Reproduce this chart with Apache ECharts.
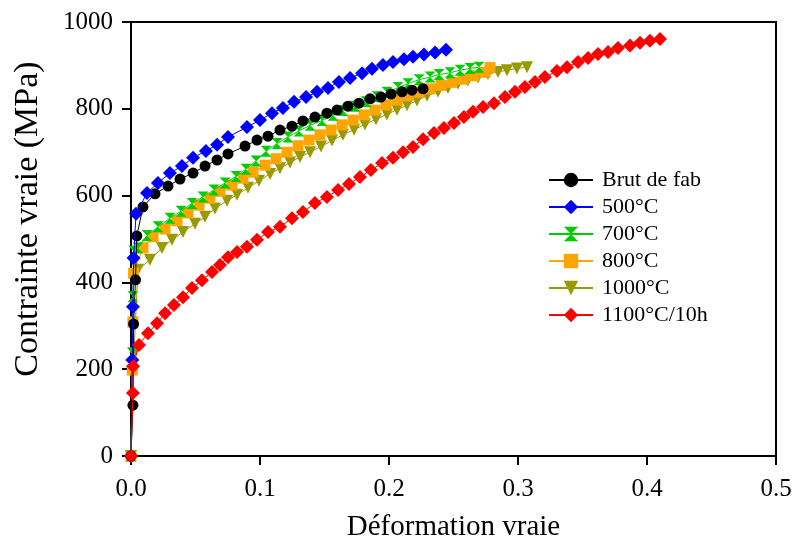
<!DOCTYPE html>
<html>
<head>
<meta charset="utf-8">
<script src="https://cdn.jsdelivr.net/npm/echarts@6/dist/echarts.min.js"></script>
<style>
html,body{margin:0;padding:0;background:#fff;}
#chart{width:797px;height:542px;}
</style>
</head>
<body>
<div id="chart"></div>
<script>
// ---- Data (true strain, true stress in MPa) ----
var seriesNames = ['Brut de fab', '500°C', '700°C', '800°C', '1000°C', '1100°C/10h'];

var brutX = [0, 0.0015, 0.002, 0.0035, 0.0045, 0.0093, 0.0186, 0.0287, 0.0380, 0.0481, 0.0574, 0.0667, 0.0752, 0.0884, 0.0977, 0.1062, 0.1155, 0.1248, 0.1333, 0.1426, 0.1519, 0.1597, 0.1682, 0.1767, 0.1853, 0.1938, 0.2016, 0.2101, 0.2178, 0.2264];
var brutY = [0, 117, 304, 406, 507, 574, 604, 622, 638, 652, 668, 682, 696, 714, 728, 737, 751, 760, 772, 781, 790, 797, 806, 813, 823, 827, 834, 839, 843, 846];

var t500X = [0, 0.001, 0.0015, 0.002, 0.0039, 0.0124, 0.0209, 0.0302, 0.0395, 0.0481, 0.0581, 0.0667, 0.0752, 0.0899, 0.1000, 0.1093, 0.1178, 0.1264, 0.1357, 0.1442, 0.1527, 0.1612, 0.1698, 0.1791, 0.1868, 0.1953, 0.2031, 0.2116, 0.2186, 0.2271, 0.2357, 0.2442];
var t500Y = [0, 221, 344, 456, 558, 606, 629, 652, 668, 687, 703, 717, 735, 758, 774, 790, 802, 816, 827, 839, 848, 862, 871, 882, 892, 901, 908, 914, 920, 925, 930, 936];

var t700X = [0, 0.001, 0.0015, 0.002, 0.0054, 0.0124, 0.0209, 0.0302, 0.0388, 0.0473, 0.0558, 0.0643, 0.0729, 0.0814, 0.0891, 0.0969, 0.1047, 0.1132, 0.1217, 0.1302, 0.1388, 0.1481, 0.1566, 0.1643, 0.1736, 0.1822, 0.1907, 0.1984, 0.2070, 0.2147, 0.2233, 0.2318, 0.2388, 0.2473, 0.2550, 0.2628, 0.2698];
var t700Y = [0, 237, 367, 472, 479, 508, 528, 548, 564, 582, 597, 613, 629, 644, 661, 680, 702, 720, 735, 749, 762, 773, 785, 796, 806, 816, 828, 838, 849, 858, 867, 873, 879, 883, 889, 893, 896];

var t800X = [0, 0.001, 0.0015, 0.002, 0.0093, 0.0171, 0.0264, 0.0357, 0.0442, 0.0527, 0.0612, 0.0690, 0.0783, 0.0868, 0.0946, 0.1039, 0.1124, 0.1209, 0.1295, 0.1380, 0.1465, 0.1550, 0.1636, 0.1721, 0.1806, 0.1891, 0.1977, 0.2062, 0.2147, 0.2233, 0.2318, 0.2403, 0.2488, 0.2574, 0.2659, 0.2744, 0.2783];
var t800Y = [0, 198, 309, 421, 480, 505, 523, 542, 560, 578, 594, 610, 624, 640, 654, 670, 685, 700, 715, 728, 740, 751, 763, 774, 786, 797, 809, 820, 830, 838, 846, 854, 861, 868, 876, 884, 895];

var t1000X = [0, 0.0023, 0.0054, 0.0147, 0.0240, 0.0318, 0.0403, 0.0496, 0.0574, 0.0651, 0.0744, 0.0822, 0.0907, 0.0992, 0.1078, 0.1155, 0.1233, 0.1310, 0.1388, 0.1473, 0.1558, 0.1643, 0.1729, 0.1814, 0.1899, 0.1984, 0.2062, 0.2140, 0.2217, 0.2295, 0.2380, 0.2457, 0.2535, 0.2612, 0.2690, 0.2767, 0.2845, 0.2915, 0.2992, 0.3070];
var t1000Y = [0, 237, 429, 452, 479, 498, 516, 535, 551, 570, 588, 602, 618, 634, 650, 663, 676, 689, 700, 713, 727, 740, 752, 764, 776, 787, 798, 808, 819, 830, 839, 848, 858, 865, 872, 880, 885, 889, 893, 896];

var t1100X = [0, 0.0015, 0.0016, 0.0062, 0.0132, 0.0202, 0.0264, 0.0333, 0.0403, 0.0473, 0.0550, 0.0628, 0.0690, 0.0752, 0.0822, 0.0899, 0.0977, 0.1062, 0.1155, 0.1248, 0.1333, 0.1426, 0.1519, 0.1605, 0.1690, 0.1775, 0.1860, 0.1946, 0.2031, 0.2109, 0.2186, 0.2264, 0.2349, 0.2426, 0.2504, 0.2581, 0.2651, 0.2729, 0.2814, 0.2899, 0.2977, 0.3054, 0.3132, 0.3209, 0.3302, 0.3380, 0.3465, 0.3543, 0.3620, 0.3698, 0.3775, 0.3868, 0.3946, 0.4023, 0.4101];
var t1100Y = [0, 145, 207, 256, 283, 306, 329, 348, 366, 387, 405, 424, 440, 458, 470, 482, 498, 516, 528, 548, 562, 583, 597, 613, 627, 643, 659, 675, 687, 700, 712, 730, 744, 756, 767, 781, 793, 804, 813, 827, 839, 850, 862, 873, 887, 896, 908, 917, 926, 931, 940, 946, 952, 957, 961];

var xTickLabels = ['0.0', '0.1', '0.2', '0.3', '0.4', '0.5'];
var yTickLabels = ['0', '200', '400', '600', '800', '1000'];

// ---- Build ----
function pairs(xs, ys) { var o = []; for (var i = 0; i < xs.length; i++) o.push([xs[i], ys[i]]); return o; }

var hourglass = 'path://M0,0 L10,0 L5,5 L10,10 L0,10 L5,5 Z';
var FONT = '"Liberation Serif","Times New Roman",serif';

var defs = [
  {name: seriesNames[0], data: pairs(brutX, brutY), color: '#000000', symbol: 'circle', size: 11, z: 5},
  {name: seriesNames[1], data: pairs(t500X, t500Y), color: '#0000FF', symbol: 'diamond', size: 14, z: 6},
  {name: seriesNames[2], data: pairs(t700X, t700Y), color: '#00CC00', symbol: hourglass, size: 11, z: 4},
  {name: seriesNames[3], data: pairs(t800X, t800Y), color: '#FFA500', symbol: 'rect', size: 11, z: 3},
  {name: seriesNames[4], data: pairs(t1000X, t1000Y), color: '#999900', symbol: 'triangle', size: 12, rotate: 180, z: 2},
  {name: seriesNames[5], data: pairs(t1100X, t1100Y), color: '#FF0000', symbol: 'diamond', size: 14, z: 7}
];

var series = defs.map(function (d) {
  return {
    name: d.name, type: 'line', data: d.data, z: d.z,
    symbol: d.symbol, symbolSize: d.size, symbolRotate: d.rotate || 0,
    showSymbol: true, showAllSymbol: true,
    lineStyle: {color: d.color, width: 1},
    itemStyle: {color: d.color, borderWidth: 0},
    emphasis: {disabled: true},
    animation: false
  };
});

var chart = echarts.init(document.getElementById('chart'), null, {renderer: 'canvas'});
chart.setOption({
  backgroundColor: '#ffffff',
  animation: false,
  grid: {left: 131, right: 21, top: 22, bottom: 86, show: true, borderColor: '#000', borderWidth: 2,
    backgroundColor: 'transparent', containLabel: false, outerBoundsMode: 'none'},
  legend: {
    orient: 'vertical', left: 543, top: 164,
    itemWidth: 44, itemHeight: 18, itemGap: 5,
    data: seriesNames,
    textStyle: {fontFamily: FONT, fontSize: 22, color: '#000', padding: [0, 0, 0, 4]}
  },
  xAxis: {
    type: 'value', min: 0, max: 0.5, interval: 0.1,
    name: 'Déformation vraie', nameLocation: 'middle', nameGap: 57,
    nameTextStyle: {fontFamily: FONT, fontSize: 29, color: '#000'},
    axisLine: {show: true, onZero: false, lineStyle: {color: '#000', width: 2}},
    axisTick: {show: true, inside: false, length: 9, lineStyle: {color: '#000', width: 2}},
    axisLabel: {fontFamily: FONT, fontSize: 25, color: '#000', margin: 21,
      formatter: function (v) { return xTickLabels[Math.round(v * 10)]; }},
    splitLine: {show: false}
  },
  yAxis: {
    type: 'value', min: 0, max: 1000, interval: 200,
    name: 'Contrainte vraie (MPa)', nameLocation: 'middle', nameGap: 86,
    nameTextStyle: {fontFamily: FONT, fontSize: 34, color: '#000', padding: [0, 0, 0, 40]},
    axisLine: {show: true, lineStyle: {color: '#000', width: 2}},
    axisTick: {show: true, inside: false, length: 9, lineStyle: {color: '#000', width: 2}},
    axisLabel: {fontFamily: FONT, fontSize: 25, color: '#000', margin: 18,
      formatter: function (v) { return yTickLabels[Math.round(v / 200)]; }},
    splitLine: {show: false}
  },
  series: series
});
</script>
</body>
</html>
